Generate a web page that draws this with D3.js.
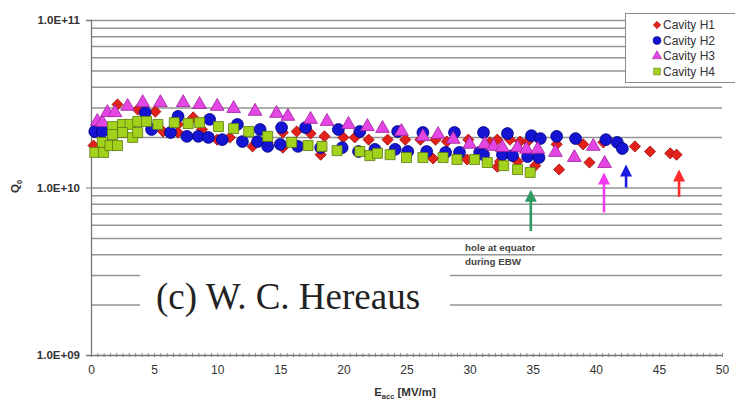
<!DOCTYPE html>
<html>
<head>
<meta charset="utf-8">
<script src="https://cdn.jsdelivr.net/npm/d3@7"></script>
<style>
  body { margin: 0; background: #fff; }
  svg { display: block; }
</style>
</head>
<body>
<div id="chart"></div>
<script>
// Cavity data, [Eacc in MV/m, Q0]
const cavityH1 = [[0.2,1.78e10],[2.1,3.13e10],[3.7,2.92e10],[5.1,2.84e10],[5.7,2.16e10],[6.9,2.38e10],[6.9,2.13e10],[8.1,2.62e10],[8.8,2.22e10],[10.0,1.93e10],[11.0,1.99e10],[12.8,1.76e10],[14.0,1.86e10],[15.2,1.73e10],[15.2,2.13e10],[16.3,2.16e10],[17.4,2.10e10],[18.2,1.57e10],[18.5,2.02e10],[20.0,1.99e10],[20.9,1.99e10],[22.0,1.93e10],[23.5,1.93e10],[24.9,1.93e10],[26.1,1.93e10],[27.1,1.49e10],[27.3,1.93e10],[28.2,1.88e10],[29.8,1.47e10],[29.9,1.93e10],[31.6,1.86e10],[32.2,1.93e10],[32.2,1.33e10],[33.2,1.93e10],[32.4,1.43e10],[33.8,1.43e10],[34.0,1.88e10],[34.6,1.88e10],[35.2,1.35e10],[36.9,1.81e10],[37.1,1.28e10],[39.0,1.81e10],[39.5,1.41e10],[40.6,1.86e10],[43.1,1.76e10],[44.3,1.64e10],[45.9,1.60e10],[46.4,1.57e10]];
const cavityH2 = [[0.3,2.16e10],[0.9,2.16e10],[4.3,2.80e10],[4.8,2.22e10],[6.3,2.13e10],[6.9,2.66e10],[7.6,2.02e10],[8.5,2.02e10],[9.3,1.99e10],[9.4,2.55e10],[10.4,1.93e10],[11.6,2.38e10],[12.0,1.88e10],[13.2,1.88e10],[13.4,2.22e10],[14.0,1.76e10],[15.0,1.81e10],[15.1,2.28e10],[16.4,1.76e10],[17.0,2.28e10],[18.2,1.73e10],[19.6,2.22e10],[19.9,1.73e10],[21.2,1.64e10],[21.3,2.16e10],[22.5,1.69e10],[24.1,1.69e10],[24.3,2.16e10],[25.1,1.64e10],[26.3,2.13e10],[26.6,1.64e10],[28.1,1.62e10],[28.8,2.13e10],[29.2,1.62e10],[30.8,1.62e10],[31.1,2.13e10],[31.1,1.57e10],[32.6,1.57e10],[33.0,2.10e10],[33.4,1.55e10],[34.6,1.53e10],[34.9,2.04e10],[35.5,1.51e10],[35.6,1.96e10],[36.9,2.02e10],[38.4,1.96e10],[40.8,1.93e10],[41.7,1.86e10],[42.1,1.71e10]];
const cavityH3 = [[0.5,2.48e10],[0.9,2.44e10],[1.3,2.80e10],[1.9,2.80e10],[2.9,3.05e10],[4.1,3.21e10],[5.5,3.21e10],[7.3,3.21e10],[8.6,3.13e10],[10.0,3.05e10],[11.3,2.96e10],[13.0,2.85e10],[14.7,2.77e10],[15.6,2.66e10],[17.4,2.55e10],[18.7,2.48e10],[20.4,2.38e10],[21.9,2.31e10],[23.1,2.25e10],[24.6,2.16e10],[26.3,2.01e10],[27.5,2.07e10],[28.7,1.94e10],[30.0,1.81e10],[31.2,1.81e10],[31.9,1.76e10],[32.6,1.73e10],[33.8,1.73e10],[34.5,1.69e10],[35.4,1.69e10],[36.8,1.62e10],[38.3,1.51e10],[39.8,1.76e10],[40.7,1.39e10]];
const cavityH4 = [[0.3,1.62e10],[1.0,1.62e10],[0.9,1.86e10],[1.5,1.78e10],[2.1,1.78e10],[1.7,2.31e10],[1.7,2.07e10],[2.5,2.38e10],[3.1,2.38e10],[2.5,2.13e10],[3.3,1.99e10],[3.7,2.13e10],[3.7,2.48e10],[4.4,2.48e10],[5.3,2.38e10],[6.6,2.44e10],[7.7,2.41e10],[8.6,2.44e10],[10.1,2.31e10],[11.3,2.25e10],[12.5,2.16e10],[14.0,2.02e10],[15.9,1.86e10],[17.2,1.78e10],[18.3,1.76e10],[19.5,1.66e10],[21.3,1.64e10],[22.1,1.55e10],[22.7,1.60e10],[23.7,1.57e10],[25.0,1.51e10],[26.3,1.51e10],[27.9,1.51e10],[29.0,1.47e10],[30.4,1.47e10],[31.4,1.41e10],[32.7,1.35e10],[33.8,1.28e10],[34.8,1.23e10]];

const seriesNames = ["Cavity H1", "Cavity H2", "Cavity H3", "Cavity H4"];
const xTicks = [0, 5, 10, 15, 20, 25, 30, 35, 40, 45, 50];
const yTickLabels = ["1.0E+09", "1.0E+10", "1.0E+11"];
const yTicks = [1e9, 1e10, 1e11];

// arrows marking the quench field of each cavity: [Eacc, Q0 at tip, Q0 at tail]
const arrowH1 = [46.6, 1.28e10, 8.8e9];
const arrowH2 = [42.4, 1.37e10, 1.0e10];
const arrowH3 = [40.65, 1.23e10, 7.1e9];
const arrowH4 = [34.85, 9.7e9, 5.5e9];

const noteLines = ["hole at equator", "during EBW"];
const creditText = "(c) W. C. Hereaus";

const W = 735, H = 403;
const svg = d3.select("#chart").append("svg")
    .attr("width", W)
    .attr("height", H)
    .style("font-family", "'Liberation Sans', Arial, sans-serif");

const x = d3.scaleLinear().domain([0, 50]).range([91, 722]);
const y = d3.scaleLog().domain([1e9, 1e11]).range([355, 20]);

// gridlines at every log tick
svg.append("g")
    .attr("transform", `translate(${x(0)},0)`)
    .call(d3.axisLeft(y).tickValues(y.ticks().filter(v => v > 1e9)).tickSize(-(x(50) - x(0))).tickFormat(""))
    .call(g => g.select(".domain").remove())
    .call(g => g.selectAll("line").attr("stroke", "#939393").attr("stroke-width", 1.5));

// white panel behind the credit text hides part of the grid
svg.append("rect")
    .attr("x", 140).attr("y", 262)
    .attr("width", 310).attr("height", 58)
    .attr("fill", "#fff");

svg.append("text")
    .attr("x", 156)
    .attr("y", 309)
    .style("font-family", "'Liberation Serif', 'Times New Roman', serif")
    .style("font-size", "37px")
    .attr("fill", "#222")
    .text(creditText);

// Y axis
svg.append("g")
    .attr("transform", `translate(${x(0)},0)`)
    .call(d3.axisLeft(y).tickValues(yTicks).tickSize(5).tickPadding(6)
        .tickFormat((d, i) => yTickLabels[i]))
    .call(g => g.select(".domain").attr("stroke", "#777").attr("stroke-width", 1.3))
    .call(g => g.selectAll("line").attr("stroke", "#777"))
    .call(g => g.selectAll("text").attr("fill", "#333").style("font-size", "11.5px").style("font-weight", "bold")
        .style("font-family", "'Liberation Sans', Arial, sans-serif"));

// X axis: minor ticks every 0.5
svg.append("g")
    .attr("transform", `translate(0,${y(1e9) - 2})`)
    .call(d3.axisBottom(x).tickValues(d3.range(0, 50.01, 0.5)).tickSize(4).tickFormat(""))
    .call(g => g.select(".domain").remove())
    .call(g => g.selectAll("line").attr("stroke", "#888"));

svg.append("g")
    .attr("transform", `translate(0,${y(1e9)})`)
    .call(d3.axisBottom(x).tickValues(xTicks).tickSize(0).tickPadding(10))
    .call(g => g.select(".domain").attr("stroke", "#777").attr("stroke-width", 1.3))
    .call(g => g.selectAll("text").attr("fill", "#333").style("font-size", "12px")
        .style("font-family", "'Liberation Sans', Arial, sans-serif"));

// axis titles
const xt = svg.append("text")
    .attr("x", 405)
    .attr("y", 396)
    .attr("text-anchor", "middle")
    .attr("fill", "#333")
    .style("font-size", "11.5px")
    .style("font-weight", "bold");
xt.append("tspan").text("E");
xt.append("tspan").attr("dy", 3).style("font-size", "7.5px").text("acc");
xt.append("tspan").attr("dy", -3).text(" [MV/m]");

const yt = svg.append("text")
    .attr("transform", "translate(19,193) rotate(-90)")
    .attr("fill", "#333")
    .style("font-size", "11.5px")
    .style("font-weight", "bold");
yt.append("tspan").text("Q");
yt.append("tspan").attr("dy", 3).style("font-size", "7.5px").text("0");

// note under the green arrow
svg.append("g").selectAll("text")
    .data(noteLines)
    .join("text")
    .attr("x", 465)
    .attr("y", (d, i) => 251 + i * 14)
    .attr("fill", "#444")
    .style("font-size", "9.8px")
    .style("font-weight", "bold")
    .text(d => d);

// marker styles
const styles = [
    {fill: "#e3211b", stroke: "#a01010", shape: d3.symbolSquare, size: 62, rot: 45},
    {fill: "#1414d2", stroke: "#00007a", shape: d3.symbolCircle, size: 110, rot: 0},
    {fill: "#e346e3", stroke: "#a0209a", shape: d3.symbolTriangle, size: 82, rot: 0},
    {fill: "#a3d21c", stroke: "#5c7a10", shape: d3.symbolSquare, size: 100, rot: 0}
];
const allSeries = [cavityH1, cavityH2, cavityH3, cavityH4];

allSeries.forEach((data, i) => {
    const s = styles[i];
    svg.append("g").selectAll("path")
        .data(data)
        .join("path")
        .attr("d", d3.symbol().type(s.shape).size(s.size))
        .attr("transform", d => `translate(${x(d[0])},${y(d[1])}) rotate(${s.rot})`)
        .attr("fill", s.fill)
        .attr("stroke", s.stroke)
        .attr("stroke-width", 0.8);
});

// arrows
const arrows = [
    {a: arrowH1, color: "#ff2a2a"},
    {a: arrowH2, color: "#1a1ae0"},
    {a: arrowH3, color: "#f23cf0"},
    {a: arrowH4, color: "#2f9a60"}
];
arrows.forEach(({a, color}) => {
    const ax = x(a[0]), ty = y(a[1]), by = y(a[2]);
    svg.append("line")
        .attr("x1", ax).attr("x2", ax)
        .attr("y1", ty + 10).attr("y2", by)
        .attr("stroke", color)
        .attr("stroke-width", 2.6);
    svg.append("path")
        .attr("d", `M${ax},${ty} L${ax - 6},${ty + 12} L${ax + 6},${ty + 12} Z`)
        .attr("fill", color);
});

// legend
const legend = svg.append("g");
legend.append("rect")
    .attr("x", 625.5).attr("y", 13.5)
    .attr("width", 130).attr("height", 69)
    .attr("fill", "#fff")
    .attr("stroke", "#8a8a8a");
seriesNames.forEach((name, i) => {
    const s = styles[i];
    const ly = 25 + i * 15.5;
    legend.append("path")
        .attr("d", d3.symbol().type(s.shape).size(s.size * 0.45))
        .attr("transform", `translate(657,${ly}) rotate(${s.rot})`)
        .attr("fill", s.fill)
        .attr("stroke", s.stroke)
        .attr("stroke-width", 0.6);
    legend.append("text")
        .attr("x", 663)
        .attr("y", ly + 4)
        .attr("fill", "#333")
        .style("font-size", "12px")
        .text(name);
});
</script>
</body>
</html>
